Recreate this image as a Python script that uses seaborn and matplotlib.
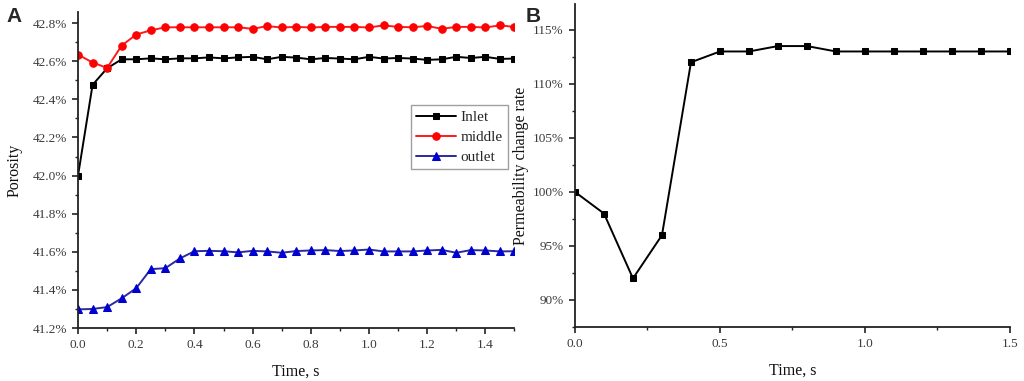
import numpy as np
import pandas as pd
import matplotlib
matplotlib.use("Agg")
import matplotlib.pyplot as plt
from matplotlib.ticker import MultipleLocator, FuncFormatter
import seaborn as sns

# ---------------- data ----------------
time_a = [round(0.05 * i, 2) for i in range(31)]
inlet = [42.000, 42.476, 42.563, 42.610, 42.610, 42.615, 42.610, 42.615, 42.615, 42.620,
         42.615, 42.620, 42.623, 42.610, 42.623, 42.619, 42.610, 42.617, 42.614, 42.610,
         42.623, 42.614, 42.617, 42.614, 42.607, 42.610, 42.623, 42.617, 42.623, 42.612, 42.614]
middle = [42.635, 42.593, 42.565, 42.682, 42.740, 42.762, 42.778, 42.778, 42.778, 42.778,
          42.778, 42.778, 42.770, 42.784, 42.777, 42.780, 42.777, 42.780, 42.780, 42.780,
          42.777, 42.788, 42.780, 42.778, 42.785, 42.770, 42.780, 42.780, 42.777, 42.788, 42.780]
outlet = [41.298, 41.300, 41.310, 41.356, 41.409, 41.509, 41.514, 41.565, 41.603, 41.605,
          41.603, 41.597, 41.605, 41.602, 41.595, 41.604, 41.607, 41.609, 41.604, 41.607,
          41.612, 41.602, 41.602, 41.602, 41.607, 41.610, 41.595, 41.609, 41.607, 41.602, 41.603]
series_names = ["Inlet", "middle", "outlet"]

time_b = [round(0.1 * i, 1) for i in range(16)]
perm_rate = [100, 98, 92, 96, 112, 113, 113, 113.5, 113.5, 113, 113, 113, 113, 113, 113, 113]

# ---------------- style ----------------
sns.set_style("ticks")
plt.rcParams["font.family"] = ["Liberation Serif", "DejaVu Serif"]
plt.rcParams["axes.linewidth"] = 1.3
plt.rcParams["xtick.major.width"] = 1.2
plt.rcParams["ytick.major.width"] = 1.2
plt.rcParams["xtick.minor.width"] = 1.0
plt.rcParams["ytick.minor.width"] = 1.0
plt.rcParams["xtick.major.size"] = 4
plt.rcParams["ytick.major.size"] = 4
plt.rcParams["xtick.minor.size"] = 2.5
plt.rcParams["ytick.minor.size"] = 2.5
plt.rcParams["xtick.direction"] = "out"
plt.rcParams["ytick.direction"] = "out"

fig = plt.figure(figsize=(10.24, 3.81), dpi=100)
axA = fig.add_axes([0.0762, 0.139, 0.4262, 0.8294])
axB = fig.add_axes([0.5615, 0.1417, 0.4248, 0.848])

tick_color = "#3a3a3a"
axis_color = "#222222"

# ---------------- panel A ----------------
dfA = pd.DataFrame({
    "Time": time_a * 3,
    "Porosity": inlet + middle + outlet,
    "Location": [series_names[0]] * len(inlet) + [series_names[1]] * len(middle)
                + [series_names[2]] * len(outlet),
})
line_colors = {"Inlet": "#000000", "middle": "#ff1a1a", "outlet": "#2a2aa0"}
marker_colors = {"Inlet": "#000000", "middle": "#ff0000", "outlet": "#0000d0"}
markers = {"Inlet": "s", "middle": "o", "outlet": "^"}
msizes = {"Inlet": 4.6, "middle": 5.4, "outlet": 5.6}

for name in series_names:
    sub = dfA[dfA["Location"] == name]
    sns.lineplot(data=sub, x="Time", y="Porosity", ax=axA, color=line_colors[name],
                 marker=markers[name], markersize=msizes[name],
                 markerfacecolor=marker_colors[name], markeredgecolor=marker_colors[name],
                 linewidth=1.4, label=name, legend=True)

axA.set_xlim(0, 1.5)
axA.set_ylim(41.2, 42.858)
axA.xaxis.set_major_locator(MultipleLocator(0.2))
axA.xaxis.set_minor_locator(MultipleLocator(0.1))
axA.yaxis.set_major_locator(MultipleLocator(0.2))
axA.yaxis.set_minor_locator(MultipleLocator(0.1))
axA.xaxis.set_major_formatter(FuncFormatter(lambda v, p: f"{v:.1f}"))
axA.yaxis.set_major_formatter(FuncFormatter(lambda v, p: f"{v:.1f}%"))
axA.set_xlabel("Time, s", fontsize=11.5, color="#111111", labelpad=9)
axA.set_ylabel("Porosity", fontsize=11.5, color="#111111", labelpad=7)
sns.despine(ax=axA)

legA = axA.legend(loc="upper left", bbox_to_anchor=(0.762, 0.705), fontsize=11,
                  frameon=True, fancybox=False, edgecolor="#888888",
                  handlelength=2.6, handletextpad=0.3, borderpad=0.35,
                  labelspacing=0.4, borderaxespad=0)
legA.get_frame().set_linewidth(1.0)

# ---------------- panel B ----------------
dfB = pd.DataFrame({"Time": time_b, "Rate": perm_rate})
sns.lineplot(data=dfB, x="Time", y="Rate", ax=axB, color="#000000", marker="s",
             markersize=5, markerfacecolor="#000000", markeredgecolor="#000000",
             linewidth=1.4)
axB.set_xlim(0, 1.5)
axB.set_ylim(87.5, 117.4)
axB.xaxis.set_major_locator(MultipleLocator(0.5))
axB.xaxis.set_minor_locator(MultipleLocator(0.25))
axB.yaxis.set_major_locator(MultipleLocator(5))
axB.yaxis.set_minor_locator(MultipleLocator(2.5))
axB.xaxis.set_major_formatter(FuncFormatter(lambda v, p: f"{v:.1f}"))
axB.yaxis.set_major_formatter(FuncFormatter(lambda v, p: f"{v:.0f}%"))
axB.set_xlabel("Time, s", fontsize=11.5, color="#111111", labelpad=9)
axB.set_ylabel("Permeability change rate", fontsize=11.5, color="#111111", labelpad=3)
sns.despine(ax=axB)

for ax in (axA, axB):
    ax.tick_params(axis="both", which="both", colors=axis_color, labelcolor=tick_color,
                   labelsize=9.5, pad=4)
    for sp in ("left", "bottom"):
        ax.spines[sp].set_color(axis_color)

# panel letters
fig.text(0.006, 0.943, "A", fontsize=15, fontweight="bold", family="Liberation Sans")
fig.text(0.513, 0.943, "B", fontsize=15, fontweight="bold", family="Liberation Sans")

fig.savefig("out.png", dpi=100)
